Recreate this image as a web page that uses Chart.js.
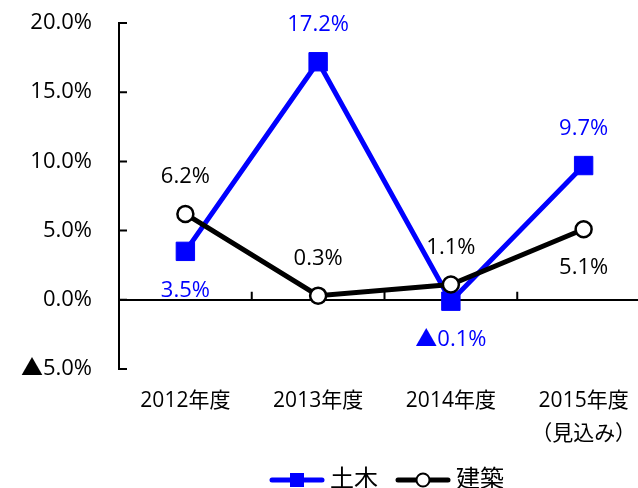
<!DOCTYPE html>
<html>
<head>
<meta charset="utf-8">
<script src="https://cdn.jsdelivr.net/npm/chart.js@4"></script>
<style>
  html, body { margin: 0; padding: 0; background: #fff; overflow: hidden; }
  #wrap { width: 652px; height: 488px; }
</style>
</head>
<body>
<div id="wrap"><canvas id="growth" width="652" height="488"></canvas></div>
<script>
const categories = ['2012年度', '2013年度', '2014年度', ['2015年度', '（見込み）']];
const seriesNames = ['土木', '建築'];
const doboku = [3.5, 17.2, -0.1, 9.7];
const kenchiku = [6.2, 0.3, 1.1, 5.1];
const yTicks = [-5, 0, 5, 10, 15, 20];

const FONT = '"Open Sans", "Noto Sans CJK JP", sans-serif';
const BLUE = '#0000ff';

function fmt(v) {
  return (v < 0 ? '▲' : '') + Math.abs(v).toFixed(1) + '%';
}

// legend icon: line with marker, left margin so the icon sits to the right of the box centre
function legendIcon(color, marker) {
  const m = 11;
  const c = document.createElement('canvas');
  c.width = 56 + m; c.height = 22;
  const g = c.getContext('2d');
  g.strokeStyle = color; g.lineWidth = 5; g.lineCap = 'round';
  g.beginPath(); g.moveTo(m + 3, 11); g.lineTo(m + 53, 11); g.stroke();
  if (marker === 'rect') {
    g.fillStyle = color;
    g.fillRect(m + 21, 4, 14, 14);
  } else {
    g.fillStyle = '#fff'; g.lineWidth = 2;
    g.beginPath(); g.arc(m + 28, 11, 6.5, 0, Math.PI * 2); g.fill(); g.stroke();
  }
  return c;
}

// inward tick marks (y axis) and boundary ticks on the zero line
const tickMarks = {
  id: 'tickMarks',
  beforeDatasetsDraw(chart) {
    const { ctx, scales: { x, y } } = chart;
    ctx.save();
    ctx.strokeStyle = '#000';
    ctx.lineWidth = 2;
    ctx.beginPath();
    y.ticks.forEach(t => {
      const py = y.getPixelForValue(t.value);
      ctx.moveTo(x.left, py); ctx.lineTo(x.left + 8, py);
    });
    const zero = y.getPixelForValue(0);
    const half = (x.getPixelForTick(1) - x.getPixelForTick(0)) / 2;
    for (let i = 1; i <= x.ticks.length; i++) {
      const px = x.getPixelForTick(0) + (2 * i - 1) * half;
      ctx.moveTo(px, zero); ctx.lineTo(px, zero - 8);
    }
    ctx.stroke();
    ctx.restore();
  }
};

const valueLabels = {
  id: 'valueLabels',
  afterDatasetsDraw(chart) {
    const ctx = chart.ctx;
    ctx.save();
    ctx.font = '22px ' + FONT;
    ctx.textAlign = 'center';
    ctx.textBaseline = 'middle';
    chart.data.datasets.forEach((ds, di) => {
      const meta = chart.getDatasetMeta(di);
      meta.data.forEach((pt, i) => {
        const dy = ds.labelSide[i] === 'above' ? -37 : 39;
        ctx.fillStyle = ds.labelColor;
        ctx.fillText(fmt(ds.data[i]), pt.x, pt.y + dy);
      });
    });
    ctx.restore();
  }
};

const legendHeight = {
  id: 'legendHeight',
  beforeInit(chart) {
    const fit = chart.legend.fit;
    chart.legend.fit = function () {
      fit.call(this);
      this.height = 33;
    };
  }
};

new Chart(document.getElementById('growth'), {
  type: 'line',
  data: {
    labels: categories,
    datasets: [
      {
        label: seriesNames[0],
        data: doboku,
        borderColor: BLUE,
        backgroundColor: BLUE,
        borderWidth: 5,
        tension: 0,
        pointStyle: 'rect',
        pointRadius: 13,
        pointBorderWidth: 1,
        pointBackgroundColor: BLUE,
        pointBorderColor: BLUE,
        order: 2,
        labelColor: BLUE,
        labelSide: ['below', 'above', 'below', 'above']
      },
      {
        label: seriesNames[1],
        data: kenchiku,
        borderColor: '#000',
        backgroundColor: '#fff',
        borderWidth: 5,
        tension: 0,
        pointStyle: 'circle',
        pointRadius: 8,
        pointBorderWidth: 2.5,
        pointBackgroundColor: '#fff',
        pointBorderColor: '#000',
        order: 1,
        labelColor: '#000',
        labelSide: ['above', 'above', 'above', 'below']
      }
    ]
  },
  options: {
    responsive: false,
    animation: false,
    layout: { autoPadding: false, padding: { top: 23, right: 2, left: 0, bottom: 0 } },
    scales: {
      x: {
        type: 'category',
        offset: true,
        grid: { display: false, drawTicks: false },
        border: { display: false },
        ticks: {
          color: '#000',
          padding: 15.5,
          maxRotation: 0,
          autoSkip: false,
          font: { family: FONT, size: 21, lineHeight: '33px' }
        },
        afterFit(scale) {
          scale.height = 86;
          scale.paddingLeft = 0;
          scale.paddingRight = 0;
        }
      },
      y: {
        min: -5,
        max: 20,
        afterBuildTicks(scale) { scale.ticks = yTicks.map(v => ({ value: v })); },
        border: { display: true, color: '#000', width: 2 },
        grid: {
          drawTicks: false,
          color: c => (c.tick && c.tick.value === 0 ? '#000' : 'rgba(0,0,0,0)'),
          lineWidth: 2
        },
        ticks: {
          color: '#000',
          padding: 27,
          font: { family: FONT, size: 22 },
          callback: v => fmt(v)
        },
        afterFit(scale) {
          scale.width = 119;
          scale.paddingTop = 0;
          scale.paddingBottom = 0;
        }
      }
    },
    plugins: {
      tooltip: { enabled: false },
      legend: {
        position: 'bottom',
        fullSize: false,
        labels: {
          color: '#000',
          usePointStyle: true,
          pointStyleWidth: 53,
          padding: 13,
          font: { family: FONT, size: 24 },
          generateLabels: () => [
            { text: seriesNames[0], pointStyle: legendIcon(BLUE, 'rect'), datasetIndex: 0, hidden: false, lineWidth: 0, fontColor: '#000' },
            { text: seriesNames[1], pointStyle: legendIcon('#000', 'circle'), datasetIndex: 1, hidden: false, lineWidth: 0, fontColor: '#000' }
          ]
        }
      }
    }
  },
  plugins: [tickMarks, valueLabels, legendHeight]
});
</script>
</body>
</html>
